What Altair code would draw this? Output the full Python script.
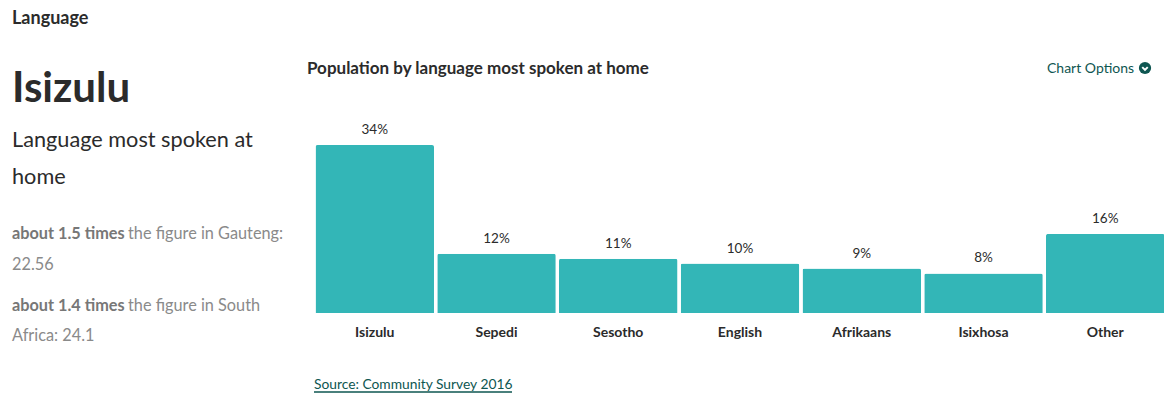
import altair as alt
import pandas as pd

# Population shares by home language
languages = ["Isizulu", "Sepedi", "Sesotho", "English", "Afrikaans", "Isixhosa", "Other"]
shares = [34, 12, 11, 10, 9, 8, 16]

TEAL = "#33b6b7"
DARK = "#2b2b2b"
GREY = "#8a8a8a"
GREY_BOLD = "#777777"
GREEN = "#0e5651"
FONT = "Lato"

data = pd.DataFrame({"language": languages, "share": shares,
                     "label": [f"{s}%" for s in shares]})

x = alt.X(
    "language:N",
    sort=languages,
    scale=alt.Scale(domain=languages, range=[315.5, 1164.5], paddingInner=0.0267, paddingOuter=0),
    axis=alt.Axis(
        title=None, orient="bottom", offset=-82, domain=False, ticks=False, grid=False,
        labelAngle=0, labelFont=FONT, labelFontSize=14, labelFontWeight="bold",
        labelColor=DARK, labelPadding=12,
    ),
)
y = alt.Y("share:Q", scale=alt.Scale(domain=[0, 34], range=[313, 145]), axis=None)

bars = alt.Chart(data).mark_bar(
    color=TEAL, cornerRadiusTopLeft=2, cornerRadiusTopRight=2, clip=False
).encode(x=x, y=y)

values = alt.Chart(data).mark_text(
    font=FONT, fontSize=13.5, color=DARK, baseline="bottom", dy=-8
).encode(x=x, y=y, text="label:N")

# Side panel and heading texts
notes = pd.DataFrame([
    ("Language", 12, 24, 18, "bold", DARK),
    ("Isizulu", 12, 102, 42, "bold", DARK),
    ("Language most spoken at", 12, 147, 21.7, "normal", DARK),
    ("home", 12, 184, 21.7, "normal", DARK),
    ("about 1.5 times", 12, 239, 16.3, "bold", GREY_BOLD),
    ("the figure in Gauteng:", 128, 239, 16.3, "normal", GREY),
    ("22.56", 12, 270, 16.3, "normal", GREY),
    ("about 1.4 times", 12, 311, 16.3, "bold", GREY_BOLD),
    ("the figure in South", 128, 311, 16.3, "normal", GREY),
    ("Africa: 24.1", 12, 341, 16.3, "normal", GREY),
    ("Population by language most spoken at home", 307, 74, 17, "bold", DARK),
    ("Chart Options", 1047, 73, 14, "normal", GREEN),
    ("Source: Community Survey 2016", 314, 389, 13.8, "normal", GREEN),
], columns=["text", "px", "py", "size", "weight", "color"])

note_layers = []
for row in notes.itertuples():
    note_layers.append(
        alt.Chart(pd.DataFrame({"t": [row.text]})).mark_text(
            font=FONT, fontSize=row.size, fontWeight=row.weight, color=row.color,
            align="left", baseline="alphabetic",
        ).encode(x=alt.value(row.px), y=alt.value(row.py), text="t:N")
    )

source_rule = alt.Chart(pd.DataFrame({"a": [0]})).mark_rule(color=GREEN, strokeWidth=1.5).encode(
    x=alt.value(314), x2=alt.value(512), y=alt.value(392)
)
icon = alt.Chart(pd.DataFrame({"a": [0]})).mark_point(
    shape="circle", filled=True, color=GREEN, size=150, opacity=1
).encode(x=alt.value(1145), y=alt.value(68))
chevron = alt.Chart(pd.DataFrame({"a": [0]})).mark_point(
    shape="M-1,-0.5L0,0.5L1,-0.5", filled=False, color="white", size=30, strokeWidth=2, opacity=1
).encode(x=alt.value(1145), y=alt.value(68.5))

chart = alt.layer(bars, values, *note_layers, source_rule, icon, chevron).properties(
    width=1164, height=395, padding=0, autosize=alt.AutoSizeParams(type="none"),
    background="white",
).configure_view(stroke=None)

chart.save("out.html", embed_options={"renderer": "svg", "actions": False})
